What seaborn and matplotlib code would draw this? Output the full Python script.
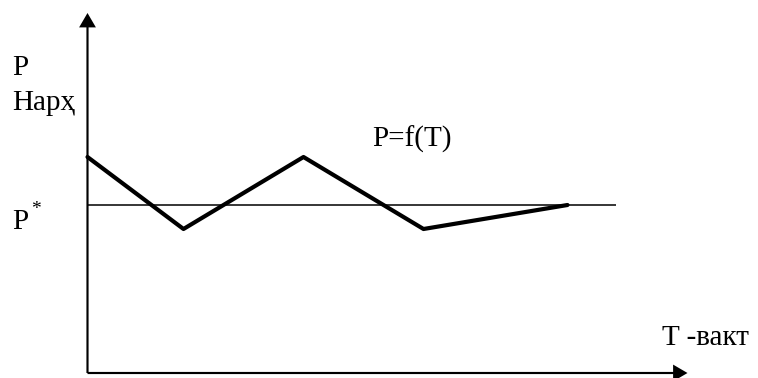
import matplotlib
matplotlib.use("Agg")
import matplotlib.pyplot as plt
import seaborn as sns
import pandas as pd

# Price path over time, oscillating around the equilibrium price P*
time_points = [0, 4, 9, 14, 20]
price_points = [9, 6, 9, 6, 7]
equilibrium_price = 7
equilibrium_end = 22
x_axis_end = 25
y_axis_end = 15

y_label_top = "P"
y_label_word = "Нарҳ"
eq_label = "P"
eq_label_sup = "*"
curve_label = "P=f(T)"
x_label = "T -вакт"

sns.set_theme(style="white")
plt.rcParams["font.family"] = ["Liberation Serif", "DejaVu Serif"]
plt.rcParams["text.color"] = "black"

fig = plt.figure(figsize=(7.58, 3.78), dpi=100)
ax = fig.add_axes([0, 0, 1, 1])
ax.set_xlim(-87.5 / 24, (758 - 87.5) / 24)
ax.set_ylim(-5 / 24, 373 / 24)
ax.axis("off")

df = pd.DataFrame({"T": time_points, "P": price_points})

# equilibrium level
ax.plot([0, equilibrium_end], [equilibrium_price, equilibrium_price],
        color="black", lw=1.1, solid_capstyle="butt")

# price dynamics
sns.lineplot(data=df, x="T", y="P", sort=False, color="black", lw=3.0,
             ax=ax, legend=False)

# coordinate axes with arrow heads
arrow_kw = dict(width=0.09, head_width=0.7, head_length=0.6,
                length_includes_head=True, color="black", lw=0)
ax.arrow(0, 0, 0, y_axis_end, **arrow_kw)
ax.arrow(0, 0, x_axis_end, 0, **arrow_kw)

fs = 21
ax.text(-3.15, 12.4, y_label_top, fontsize=fs, va="baseline", ha="left")
ax.text(-3.15, 10.96, y_label_word, fontsize=fs, va="baseline", ha="left")
ax.text(-3.15, 6.0, eq_label, fontsize=fs, va="baseline", ha="left")
ax.text(-2.36, 6.63, eq_label_sup, fontsize=14, va="baseline", ha="left")
ax.text(11.85, 9.42, curve_label, fontsize=fs, va="baseline", ha="left")
ax.text(23.94, 1.17, x_label, fontsize=fs, va="baseline", ha="left")

fig.savefig("out.png", dpi=100, facecolor="white")
